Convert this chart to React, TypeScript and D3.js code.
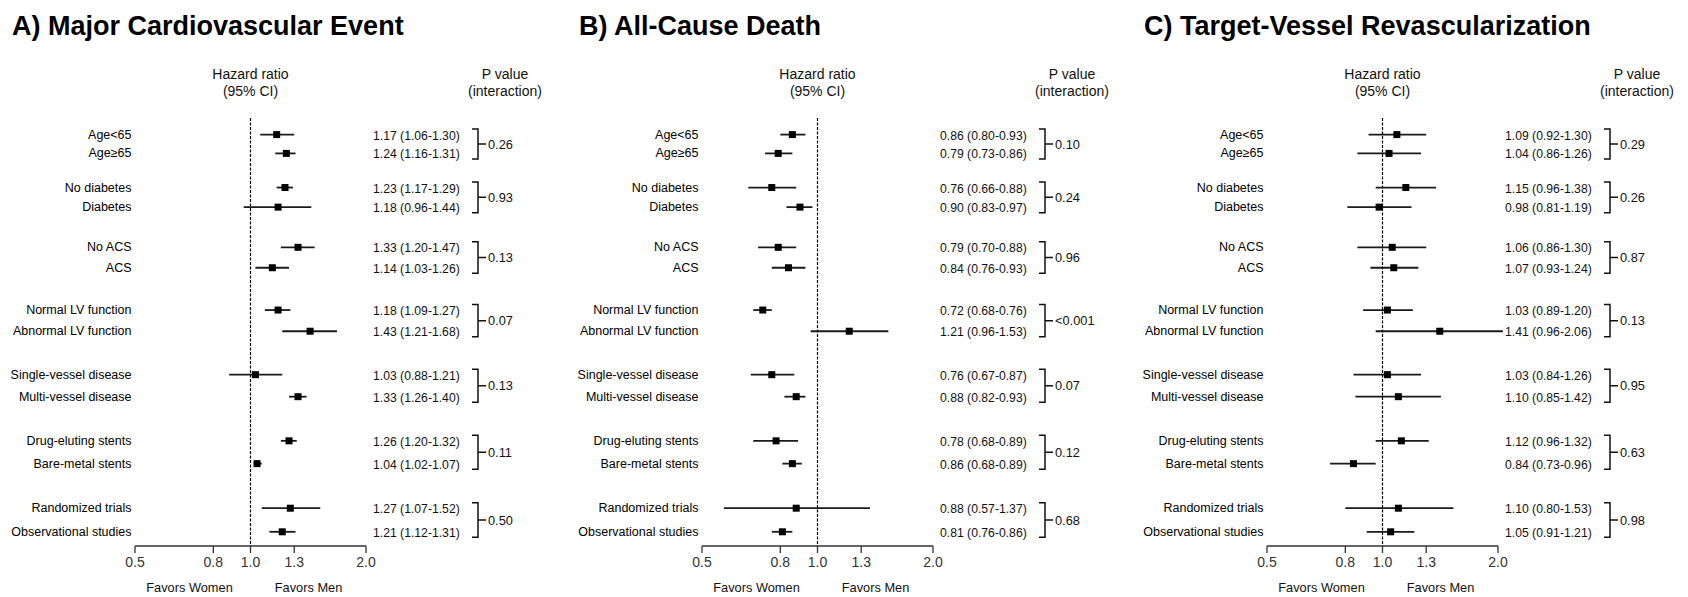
import React from "react"
import * as d3 from "d3"

// ── Data ───────────────────────────────────────────────────────────────────────

const subgroups = [
  "Age<65",
  "Age≥65",
  "No diabetes",
  "Diabetes",
  "No ACS",
  "ACS",
  "Normal LV function",
  "Abnormal LV function",
  "Single-vessel disease",
  "Multi-vessel disease",
  "Drug-eluting stents",
  "Bare-metal stents",
  "Randomized trials",
  "Observational studies",
]

const tickValues = [0.5, 0.8, 1.0, 1.3, 2.0]
const tickLabels = ["0.5", "0.8", "1.0", "1.3", "2.0"]

// A) Major cardiovascular event
const maceHR = [1.17, 1.24, 1.23, 1.18, 1.33, 1.14, 1.18, 1.43, 1.03, 1.33, 1.26, 1.04, 1.27, 1.21]
const maceLo = [1.06, 1.16, 1.17, 0.96, 1.2, 1.03, 1.09, 1.21, 0.88, 1.26, 1.2, 1.02, 1.07, 1.12]
const maceHi = [1.3, 1.31, 1.29, 1.44, 1.47, 1.26, 1.27, 1.68, 1.21, 1.4, 1.32, 1.07, 1.52, 1.31]
const maceText = [
  "1.17 (1.06-1.30)", "1.24 (1.16-1.31)", "1.23 (1.17-1.29)", "1.18 (0.96-1.44)",
  "1.33 (1.20-1.47)", "1.14 (1.03-1.26)", "1.18 (1.09-1.27)", "1.43 (1.21-1.68)",
  "1.03 (0.88-1.21)", "1.33 (1.26-1.40)", "1.26 (1.20-1.32)", "1.04 (1.02-1.07)",
  "1.27 (1.07-1.52)", "1.21 (1.12-1.31)",
]
const maceP = ["0.26", "0.93", "0.13", "0.07", "0.13", "0.11", "0.50"]

// B) All-cause death
const deathHR = [0.86, 0.79, 0.76, 0.9, 0.79, 0.84, 0.72, 1.21, 0.76, 0.88, 0.78, 0.86, 0.88, 0.81]
const deathLo = [0.8, 0.73, 0.66, 0.83, 0.7, 0.76, 0.68, 0.96, 0.67, 0.82, 0.68, 0.81, 0.57, 0.76]
const deathHi = [0.93, 0.86, 0.88, 0.97, 0.88, 0.93, 0.76, 1.53, 0.87, 0.93, 0.89, 0.91, 1.37, 0.86]
const deathText = [
  "0.86 (0.80-0.93)", "0.79 (0.73-0.86)", "0.76 (0.66-0.88)", "0.90 (0.83-0.97)",
  "0.79 (0.70-0.88)", "0.84 (0.76-0.93)", "0.72 (0.68-0.76)", "1.21 (0.96-1.53)",
  "0.76 (0.67-0.87)", "0.88 (0.82-0.93)", "0.78 (0.68-0.89)", "0.86 (0.68-0.89)",
  "0.88 (0.57-1.37)", "0.81 (0.76-0.86)",
]
const deathP = ["0.10", "0.24", "0.96", "<0.001", "0.07", "0.12", "0.68"]

// C) Target-vessel revascularization
const tvrHR = [1.09, 1.04, 1.15, 0.98, 1.06, 1.07, 1.03, 1.41, 1.03, 1.1, 1.12, 0.84, 1.1, 1.05]
const tvrLo = [0.92, 0.86, 0.96, 0.81, 0.86, 0.93, 0.89, 0.96, 0.84, 0.85, 0.96, 0.73, 0.8, 0.91]
const tvrHi = [1.3, 1.26, 1.38, 1.19, 1.3, 1.24, 1.2, 2.06, 1.26, 1.42, 1.32, 0.96, 1.53, 1.21]
const tvrText = [
  "1.09 (0.92-1.30)", "1.04 (0.86-1.26)", "1.15 (0.96-1.38)", "0.98 (0.81-1.19)",
  "1.06 (0.86-1.30)", "1.07 (0.93-1.24)", "1.03 (0.89-1.20)", "1.41 (0.96-2.06)",
  "1.03 (0.84-1.26)", "1.10 (0.85-1.42)", "1.12 (0.96-1.32)", "0.84 (0.73-0.96)",
  "1.10 (0.80-1.53)", "1.05 (0.91-1.21)",
]
const tvrP = ["0.29", "0.26", "0.87", "0.13", "0.95", "0.63", "0.98"]

const FONT = "'Liberation Sans', Arial, Helvetica, sans-serif"

// ── Panel ──────────────────────────────────────────────────────────────────────

type PanelProps = {
  offset: number
  title: string
  hr: number[]
  lo: number[]
  hi: number[]
  ciText: string[]
  pText: string[]
}

function ForestPanel({ offset, title, hr, lo, hi, ciText, pText }: PanelProps) {
  const x = d3.scaleLog().domain([0.5, 2]).range([offset + 135, offset + 366])
  // groups spread slightly wider toward the bottom in the original figure
  const pairY = d3.scalePow().exponent(1.09).domain([0, pText.length - 1]).range([144, 520])
  const halfGap = d3.scaleLinear().domain([0, pText.length - 1]).range([9.4, 11.8])
  const rowY = (i: number) => {
    const g = Math.floor(i / 2)
    return pairY(g) + (i % 2 === 0 ? -halfGap(g) : halfGap(g))
  }

  const axisY = 546
  const labelX = offset + 131.5
  const ciX = offset + 373
  const bracketX = offset + 478
  const x1 = x(1)

  return (
    <g fontFamily={FONT}>
      <text x={offset + 12} y={35} fontSize={27} fontWeight={700} fill="#000">
        {title}
      </text>

      {/* Column headers */}
      <text textAnchor="middle" fontSize={14} fill="#111">
        <tspan x={x1} y={79}>Hazard ratio</tspan>
        <tspan x={x1} y={95.5}>(95% CI)</tspan>
      </text>
      <text textAnchor="middle" fontSize={14} fill="#111">
        <tspan x={offset + 505} y={79}>P value</tspan>
        <tspan x={offset + 505} y={95.5}>(interaction)</tspan>
      </text>

      {/* Reference line at HR = 1 */}
      <line x1={x1} x2={x1} y1={118} y2={axisY} stroke="#000" strokeWidth={1.2} strokeDasharray="3 1.5" />

      {/* Rows */}
      {subgroups.map((name, i) => {
        const y = rowY(i)
        return (
          <g key={name}>
            <text x={labelX} y={y} textAnchor="end" dominantBaseline="central" fontSize={12.5} fill="#000">
              {name}
            </text>
            <line x1={x(lo[i])} x2={x(hi[i])} y1={y} y2={y} stroke="#1a1a1a" strokeWidth={1.8} />
            <rect x={x(hr[i]) - 3.5} y={y - 3.5} width={7} height={7} fill="#000" />
            <text x={ciX} y={y + 1} dominantBaseline="central" fontSize={12.2} fill="#111">
              {ciText[i]}
            </text>
          </g>
        )
      })}

      {/* Interaction brackets */}
      {pText.map((p, g) => {
        const yTop = rowY(g * 2) - 5.5
        const yBot = rowY(g * 2 + 1) + 5.5
        const yMid = pairY(g)
        return (
          <g key={g}>
            <path
              d={`M${bracketX - 6},${yTop}H${bracketX}V${yBot}H${bracketX - 6}M${bracketX},${yMid}H${bracketX + 8}`}
              fill="none"
              stroke="#111"
              strokeWidth={1.5}
            />
            <text x={bracketX + 10} y={yMid} dominantBaseline="central" fontSize={12.8} fill="#111">
              {p}
            </text>
          </g>
        )
      })}

      {/* Axis */}
      <line x1={x(0.5)} x2={x(2)} y1={axisY} y2={axisY} stroke="#333" strokeWidth={1.3} />
      {tickValues.map((t, i) => (
        <g key={t}>
          <line x1={x(t)} x2={x(t)} y1={axisY} y2={axisY + 7} stroke="#333" strokeWidth={1.3} />
          <text x={x(t)} y={axisY + 21} textAnchor="middle" fontSize={14} fill="#333">
            {tickLabels[i]}
          </text>
        </g>
      ))}

      <text x={x1 - 61} y={592} textAnchor="middle" fontSize={12.8} fill="#111">
        Favors Women
      </text>
      <text x={x1 + 58} y={592} textAnchor="middle" fontSize={12.8} fill="#111">
        Favors Men
      </text>
    </g>
  )
}

// ── App ────────────────────────────────────────────────────────────────────────

export default function App() {
  const width = 1688
  const height = 597
  return (
    <div style={{ position: "fixed", left: 0, top: 0, background: "#fff" }}>
      <svg width={width} height={height} style={{ display: "block" }}>
        <rect width={width} height={height} fill="#fff" />
        <ForestPanel offset={0} title="A) Major Cardiovascular Event" hr={maceHR} lo={maceLo} hi={maceHi} ciText={maceText} pText={maceP} />
        <ForestPanel offset={567} title="B) All-Cause Death" hr={deathHR} lo={deathLo} hi={deathHi} ciText={deathText} pText={deathP} />
        <ForestPanel offset={1132} title="C) Target-Vessel Revascularization" hr={tvrHR} lo={tvrLo} hi={tvrHi} ciText={tvrText} pText={tvrP} />
      </svg>
    </div>
  )
}
